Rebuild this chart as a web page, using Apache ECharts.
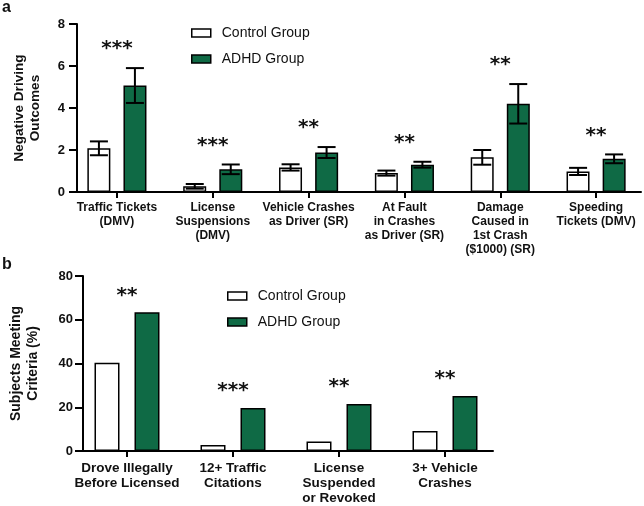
<!DOCTYPE html>
<html>
<head>
<meta charset="utf-8">
<script src="https://cdn.jsdelivr.net/npm/echarts@6/dist/echarts.min.js"></script>
<style>
html,body{margin:0;padding:0;background:#fff;}
#main{width:644px;height:506px;}
</style>
</head>
<body>
<div id="main"></div>
<script>
// ---- Panel a data ----
const catsA = ['Traffic Tickets\n(DMV)', 'License\nSuspensions\n(DMV)', 'Vehicle Crashes\nas Driver (SR)', 'At Fault\nin Crashes\nas Driver (SR)', 'Damage\nCaused in\n1st Crash\n($1000) (SR)', 'Speeding\nTickets (DMV)'];
const controlA = [2.08, 0.27, 1.17, 0.90, 1.65, 0.98];
const controlErrA = [0.33, 0.11, 0.15, 0.12, 0.35, 0.17];
const adhdA = [5.07, 1.08, 1.88, 1.30, 4.20, 1.58];
const adhdErrA = [0.83, 0.23, 0.26, 0.14, 0.94, 0.21];
const starsA = ['***', '***', '**', '**', '**', '**'];
const yTitleA = 'Negative Driving\nOutcomes';

// ---- Panel b data ----
const catsB = ['Drove Illegally\nBefore Licensed', '12+ Traffic\nCitations', 'License\nSuspended\nor Revoked', '3+ Vehicle\nCrashes'];
const controlB = [40.3, 2.8, 4.4, 9.1];
const adhdB = [63.4, 19.7, 21.5, 25.1];
const starsB = ['**', '***', '**', '**'];
const yTitleB = 'Subjects Meeting\nCriteria (%)';

const seriesNames = ['Control Group', 'ADHD Group'];

const GREEN = '#0f6a45';
const FONT = '"Liberation Sans", Arial, Helvetica, sans-serif';
const INK = '#111';

const chart = echarts.init(document.getElementById('main'), null, {renderer: 'canvas'});

function errSeries(name, xIdx, yIdx, means, errs, off, cap) {
  return {
    type: 'custom', name: name + ' err', xAxisIndex: xIdx, yAxisIndex: yIdx, z: 5,
    silent: true,
    data: means.map((m, i) => [i, m, errs[i]]),
    renderItem: function (params, api) {
      const i = api.value(0), m = api.value(1), e = api.value(2);
      const top = api.coord([i, m + e]);
      const bot = api.coord([i, m - e]);
      const x = top[0] + off;
      const st = {stroke: '#000', lineWidth: 2};
      return {type: 'group', children: [
        {type: 'line', shape: {x1: x, y1: top[1], x2: x, y2: bot[1]}, style: st},
        {type: 'line', shape: {x1: x - cap, y1: top[1], x2: x + cap, y2: top[1]}, style: st},
        {type: 'line', shape: {x1: x - cap, y1: bot[1], x2: x + cap, y2: bot[1]}, style: st}
      ]};
    }
  };
}

function starSeries(xIdx, yIdx, tops, stars, lift) {
  return {
    type: 'custom', name: 'stars', xAxisIndex: xIdx, yAxisIndex: yIdx, z: 6, silent: true,
    data: tops.map((t, i) => [i, t]),
    renderItem: function (params, api) {
      const p = api.coord([api.value(0), api.value(1)]);
      return {type: 'text', style: {
        text: stars[params.dataIndex], x: p[0], y: p[1] - lift,
        align: 'center', verticalAlign: 'middle',
        font: 'bold 20px "DejaVu Sans", sans-serif', fill: '#111'
      }};
    }
  };
}

const legendItems = [
  {name: seriesNames[0], itemStyle: {color: '#fff', borderColor: '#000', borderWidth: 1.5}},
  {name: seriesNames[1], itemStyle: {color: GREEN, borderColor: '#000', borderWidth: 1.5}}
];

function legend(left, top) {
  return {
    orient: 'vertical', left: left, top: top, icon: 'rect', padding: 0,
    itemWidth: 19, itemHeight: 8, itemGap: 10, selectedMode: false,
    data: legendItems,
    textStyle: {fontFamily: FONT, fontSize: 14, color: INK, lineHeight: 16, padding: [0, 0, 0, 6]}
  };
}

const axisLineStyle = {color: '#000', width: 2};

const option = {
  animation: false,
  backgroundColor: '#fff',
  title: [
    {text: 'a', left: 2, top: 0, padding: 0, textStyle: {fontFamily: FONT, fontSize: 16, fontWeight: 'bold', color: INK}},
    {text: 'b', left: 2, top: 257, padding: 0, textStyle: {fontFamily: FONT, fontSize: 16, fontWeight: 'bold', color: INK}}
  ],
  legend: [legend(191, 25), legend(227, 288)],
  grid: [
    {left: 69, top: 24, width: 576, height: 168},   // a: data grid
    {left: 77, top: 24, width: 564, height: 168},   // a: visible axes
    {left: 74, top: 276, width: 424, height: 175},  // b: data grid
    {left: 79, top: 276, width: 414, height: 175}   // b: visible axes
  ],
  xAxis: [
    {type: 'category', gridIndex: 0, data: catsA,
      axisLine: {show: false},
      axisTick: {show: true, alignWithLabel: true, length: 6, lineStyle: axisLineStyle},
      axisLabel: {interval: 0, margin: 9, fontFamily: FONT, fontSize: 12, fontWeight: 'bold', color: INK, lineHeight: 14}},
    {type: 'category', gridIndex: 1, data: catsA,
      axisLine: {show: true, lineStyle: axisLineStyle}, axisTick: {show: false}, axisLabel: {show: false}},
    {type: 'category', gridIndex: 2, data: catsB,
      axisLine: {show: false},
      axisTick: {show: true, alignWithLabel: true, length: 6, lineStyle: axisLineStyle},
      axisLabel: {interval: 0, margin: 10, fontFamily: FONT, fontSize: 13.5, fontWeight: 'bold', color: INK, lineHeight: 15}},
    {type: 'category', gridIndex: 3, data: catsB,
      axisLine: {show: true, lineStyle: axisLineStyle}, axisTick: {show: false}, axisLabel: {show: false}}
  ],
  yAxis: [
    {type: 'value', gridIndex: 0, min: 0, max: 8, interval: 2, show: false},
    {type: 'value', gridIndex: 1, min: 0, max: 8, interval: 2,
      name: yTitleA, nameLocation: 'middle', nameGap: 34, nameRotate: 90,
      nameTextStyle: {fontFamily: FONT, fontSize: 13.6, fontWeight: 'bold', color: INK, lineHeight: 16},
      axisLine: {show: true, lineStyle: axisLineStyle},
      axisTick: {show: true, length: 8, lineStyle: axisLineStyle},
      axisLabel: {margin: 12, fontFamily: FONT, fontSize: 13, fontWeight: 'bold', color: INK},
      splitLine: {show: false}},
    {type: 'value', gridIndex: 2, min: 0, max: 80, interval: 20, show: false},
    {type: 'value', gridIndex: 3, min: 0, max: 80, interval: 20,
      name: yTitleB, nameLocation: 'middle', nameGap: 41, nameRotate: 90,
      nameTextStyle: {fontFamily: FONT, fontSize: 14, fontWeight: 'bold', color: INK, lineHeight: 17},
      axisLine: {show: true, lineStyle: axisLineStyle},
      axisTick: {show: true, length: 8, lineStyle: axisLineStyle},
      axisLabel: {margin: 10, fontFamily: FONT, fontSize: 13, fontWeight: 'bold', color: INK},
      splitLine: {show: false}}
  ],
  series: [
    {type: 'bar', name: seriesNames[0], xAxisIndex: 0, yAxisIndex: 0, data: controlA,
      barWidth: 23, barGap: '57%',
      itemStyle: {color: '#fff', borderColor: '#000', borderWidth: 1.5}},
    {type: 'bar', name: seriesNames[1], xAxisIndex: 0, yAxisIndex: 0, data: adhdA,
      barWidth: 23, barGap: '57%',
      itemStyle: {color: GREEN, borderColor: '#000', borderWidth: 1.5}},
    errSeries('control', 0, 0, controlA, controlErrA, -18, 9),
    errSeries('adhd', 0, 0, adhdA, adhdErrA, 18, 9),
    starSeries(0, 0, adhdA.map((v, i) => v + adhdErrA[i]), starsA, 19),
    {type: 'bar', name: seriesNames[0], xAxisIndex: 2, yAxisIndex: 2, data: controlB,
      barWidth: 25, barGap: '60%',
      itemStyle: {color: '#fff', borderColor: '#000', borderWidth: 1.5}},
    {type: 'bar', name: seriesNames[1], xAxisIndex: 2, yAxisIndex: 2, data: adhdB,
      barWidth: 25, barGap: '60%',
      itemStyle: {color: GREEN, borderColor: '#000', borderWidth: 1.5}},
    starSeries(2, 2, adhdB, starsB, 17)
  ]
};

chart.setOption(option);
</script>
</body>
</html>
